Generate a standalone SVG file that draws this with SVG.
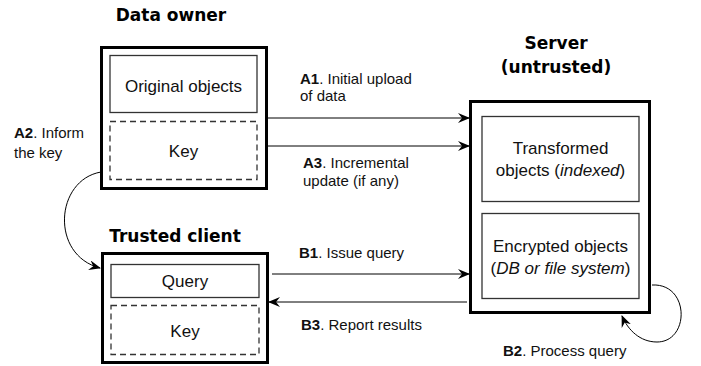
<svg xmlns="http://www.w3.org/2000/svg" width="701" height="366" viewBox="0 0 701 366">
<style>
.outer{fill:#fff;stroke:#000;stroke-width:3}
.inner{fill:#fff;stroke:#333;stroke-width:1.3}
.dash{fill:#fff;stroke:#333;stroke-width:1.3;stroke-dasharray:6,4}
.title{font-family:"DejaVu Sans",sans-serif;font-weight:bold;font-size:17px;fill:#000;text-anchor:middle}
.nt{font-family:"Liberation Sans",Arial,sans-serif;font-size:17px;fill:#111;text-anchor:middle}
.lb{font-family:"Liberation Sans",Arial,sans-serif;font-size:15px;fill:#111}
.conn{fill:none;stroke:#000;stroke-width:1}
</style>
<defs>
<marker id="ah" markerWidth="12" markerHeight="10" refX="11" refY="5" orient="auto" markerUnits="userSpaceOnUse">
<path d="M0,0 L12,5 L0,10 L4,5 Z" fill="#000"/>
</marker>
</defs>
<rect width="701" height="366" fill="#fff"/>
<g id="data-owner">
<text class="title" x="171" y="21">Data owner</text>
<rect class="outer" x="101.5" y="47.5" width="165" height="141"/>
<rect class="inner" x="110" y="55.5" width="147" height="57"/>
<text class="nt" x="183.5" y="92">Original objects</text>
<rect class="dash" x="110" y="121.5" width="147" height="58"/>
<text class="nt" x="183.5" y="157">Key</text>
</g>
<g id="trusted-client">
<text class="title" x="175" y="242">Trusted client</text>
<rect class="outer" x="102.5" y="253.5" width="165" height="109"/>
<rect class="inner" x="111" y="264.5" width="148" height="33"/>
<text class="nt" x="185" y="287">Query</text>
<rect class="dash" x="111" y="305.5" width="148" height="49"/>
<text class="nt" x="185" y="337">Key</text>
</g>
<g id="server">
<text class="title" x="556" y="49">Server</text>
<text class="title" x="556" y="73">(untrusted)</text>
<rect class="outer" x="470.5" y="101.5" width="179" height="211"/>
<rect class="inner" x="482" y="116.5" width="157" height="85"/>
<text class="nt" x="560.5" y="154">Transformed</text>
<text class="nt" x="560.5" y="176">objects (<tspan font-style="italic">indexed</tspan>)</text>
<rect class="inner" x="482" y="213.5" width="157" height="85"/>
<text class="nt" x="560.5" y="252">Encrypted objects</text>
<text class="nt" x="560.5" y="274">(<tspan font-style="italic">DB or file system</tspan>)</text>
</g>
<g id="connectors">
<line class="conn" x1="268" y1="118" x2="469" y2="118" marker-end="url(#ah)"/>
<line class="conn" x1="268" y1="146" x2="469" y2="146" marker-end="url(#ah)"/>
<line class="conn" x1="272" y1="274" x2="469" y2="274" marker-end="url(#ah)"/>
<line class="conn" x1="467" y1="302" x2="269" y2="302" marker-end="url(#ah)"/>
<path class="conn" d="M101,172 C55,180 50,255 100,268" marker-end="url(#ah)"/>
<path class="conn" d="M652,285 C690,283 690,342 657,342 C640,342 628,330 622,316" marker-end="url(#ah)"/>
</g>
<g id="labels">
<text class="lb" x="300" y="84"><tspan font-weight="bold">A1</tspan>. Initial upload</text>
<text class="lb" x="300" y="101">of data</text>
<text class="lb" x="303" y="168"><tspan font-weight="bold">A3</tspan>. Incremental</text>
<text class="lb" x="303" y="186">update (if any)</text>
<text class="lb" x="14" y="138"><tspan font-weight="bold">A2</tspan>. Inform</text>
<text class="lb" x="14" y="158">the key</text>
<text class="lb" x="299" y="258"><tspan font-weight="bold">B1</tspan>. Issue query</text>
<text class="lb" x="301" y="330"><tspan font-weight="bold">B3</tspan>. Report results</text>
<text class="lb" x="503" y="356"><tspan font-weight="bold">B2</tspan>. Process query</text>
</g>
</svg>
